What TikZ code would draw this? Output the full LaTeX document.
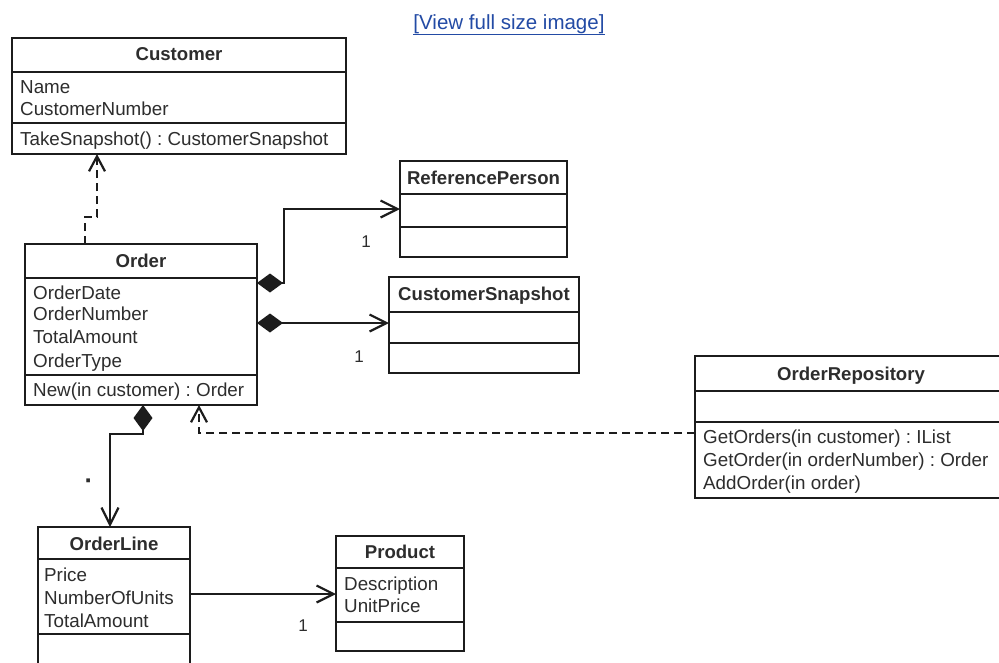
\documentclass[tikz,border=0pt]{standalone}
\usepackage{fontspec}
\setmainfont{Liberation Sans}
\usetikzlibrary{arrows.meta}
\frenchspacing

\definecolor{ink}{RGB}{28,28,28}
\definecolor{txt}{RGB}{45,45,45}
\definecolor{linkblue}{RGB}{35,75,165}

\tikzset{
  cls/.style={draw=ink, line width=2.5pt, inner sep=0pt, outer sep=0pt, anchor=north west},
  sepline/.style={draw=ink, line width=2.3pt},
  title/.style={anchor=base, inner sep=0pt, text=txt, font=\fontsize{18.6}{22}\selectfont\bfseries},
  attr/.style={anchor=base west, inner sep=0pt, text=txt, font=\fontsize{18.8}{22}\selectfont},
  mult/.style={anchor=base, inner sep=0pt, text=txt, font=\fontsize{17}{20}\selectfont},
  assoc/.style={draw=ink, line width=2.2pt, -{Straight Barb[length=17pt,width=17pt]}},
  comp/.style={draw=ink, line width=2.2pt, {Diamond[length=26pt,width=19pt]}-{Straight Barb[length=17pt,width=17pt]}},
  dep/.style={draw=ink, line width=2.2pt, dash pattern=on 8pt off 5pt, -{Straight Barb[length=15pt,width=16pt]}},
  weblink/.style={anchor=base, inner sep=0pt, text=linkblue, font=\fontsize{20.5}{24}\selectfont},
}

\begin{document}
\begin{tikzpicture}[x=1pt, y=-1pt]
  \fill[white] (0,0) rectangle (999,662);
  \useasboundingbox (0,0) rectangle (999,662);

  \node[weblink] (viewlink) at (509,29) {\underline{[View full size image]}};

  % Customer
  \node[cls, minimum width=334pt, minimum height=116pt] (customer) at (12,38) {};
  \draw[sepline] (customer.west |- 0,72) -- (customer.east |- 0,72);
  \draw[sepline] (customer.west |- 0,123) -- (customer.east |- 0,123);
  \node[title] (customer-t) at (179,60) {Customer};
  \node[attr] (customer-a1) at (20,93) {Name};
  \node[attr] (customer-a2) at (20,115) {CustomerNumber};
  \node[attr] (customer-m1) at (20,145) {TakeSnapshot() : CustomerSnapshot};

  % Order
  \node[cls, minimum width=232pt, minimum height=161pt] (order) at (25,244) {};
  \draw[sepline] (order.west |- 0,278) -- (order.east |- 0,278);
  \draw[sepline] (order.west |- 0,375) -- (order.east |- 0,375);
  \node[title] (order-t) at (141,267) {Order};
  \node[attr] (order-a1) at (33,299) {OrderDate};
  \node[attr] (order-a2) at (33,320) {OrderNumber};
  \node[attr] (order-a3) at (33,343) {TotalAmount};
  \node[attr] (order-a4) at (33,367) {OrderType};
  \node[attr] (order-m1) at (33,396) {New(in customer) : Order};

  % ReferencePerson
  \node[cls, minimum width=167pt, minimum height=96pt] (refperson) at (400,161) {};
  \draw[sepline] (refperson.west |- 0,194) -- (refperson.east |- 0,194);
  \draw[sepline] (refperson.west |- 0,227) -- (refperson.east |- 0,227);
  \node[title] (refperson-t) at (483.5,184) {ReferencePerson};

  % CustomerSnapshot
  \node[cls, minimum width=190pt, minimum height=96pt] (snapshot) at (389,277) {};
  \draw[sepline] (snapshot.west |- 0,312) -- (snapshot.east |- 0,312);
  \draw[sepline] (snapshot.west |- 0,343) -- (snapshot.east |- 0,343);
  \node[title] (snapshot-t) at (484,300) {CustomerSnapshot};

  % OrderRepository
  \node[cls, minimum width=308pt, minimum height=142pt] (repo) at (695,356) {};
  \draw[sepline] (repo.west |- 0,391) -- (repo.east |- 0,391);
  \draw[sepline] (repo.west |- 0,422) -- (repo.east |- 0,422);
  \node[title] (repo-t) at (851,380) {OrderRepository};
  \node[attr] (repo-m1) at (703,443) {GetOrders(in customer) : IList};
  \node[attr] (repo-m2) at (703,466) {GetOrder(in orderNumber) : Order};
  \node[attr] (repo-m3) at (703,489) {AddOrder(in order)};

  % OrderLine
  \node[cls, minimum width=152pt, minimum height=142pt] (orderline) at (38,527) {};
  \draw[sepline] (orderline.west |- 0,559) -- (orderline.east |- 0,559);
  \draw[sepline] (orderline.west |- 0,634) -- (orderline.east |- 0,634);
  \node[title] (orderline-t) at (114,550) {OrderLine};
  \node[attr] (orderline-a1) at (44,581) {Price};
  \node[attr] (orderline-a2) at (44,604) {NumberOfUnits};
  \node[attr] (orderline-a3) at (44,627) {TotalAmount};

  % Product
  \node[cls, minimum width=128pt, minimum height=115pt] (product) at (336,536) {};
  \draw[sepline] (product.west |- 0,568) -- (product.east |- 0,568);
  \draw[sepline] (product.west |- 0,622) -- (product.east |- 0,622);
  \node[title] (product-t) at (400,558) {Product};
  \node[attr] (product-a1) at (344,590) {Description};
  \node[attr] (product-a2) at (344,612) {UnitPrice};

  % Connectors
  \coordinate (depbend) at (97,217);
  \draw[dep] (order.north -| 85,0) |- (depbend) -- (customer.south -| depbend);

  \coordinate (rpbend) at (284,283);
  \draw[comp] (order.east |- rpbend) -- (rpbend) |- (refperson.west |- 0,209);
  \draw[comp] (order.east |- 0,323) -- (snapshot.west |- 0,323);

  \coordinate (repobend) at (199,433);
  \draw[dep] (repo.west |- repobend) -- (repobend) -- (order.south -| repobend);

  \coordinate (olbend) at (143,434);
  \draw[comp] (order.south -| olbend) -- (olbend) -| (orderline.north -| 110,0);

  \draw[assoc] (orderline.east |- 0,594) -- (product.west |- 0,594);

  % Multiplicities
  \node[mult] (m-ref) at (366,247) {1};
  \node[mult] (m-snap) at (359,362) {1};
  \node[mult, font=\fontsize{26}{26}\selectfont\bfseries] (m-line) at (89,489) {·};
  \node[mult] (m-prod) at (303,631) {1};
\end{tikzpicture}
\end{document}
